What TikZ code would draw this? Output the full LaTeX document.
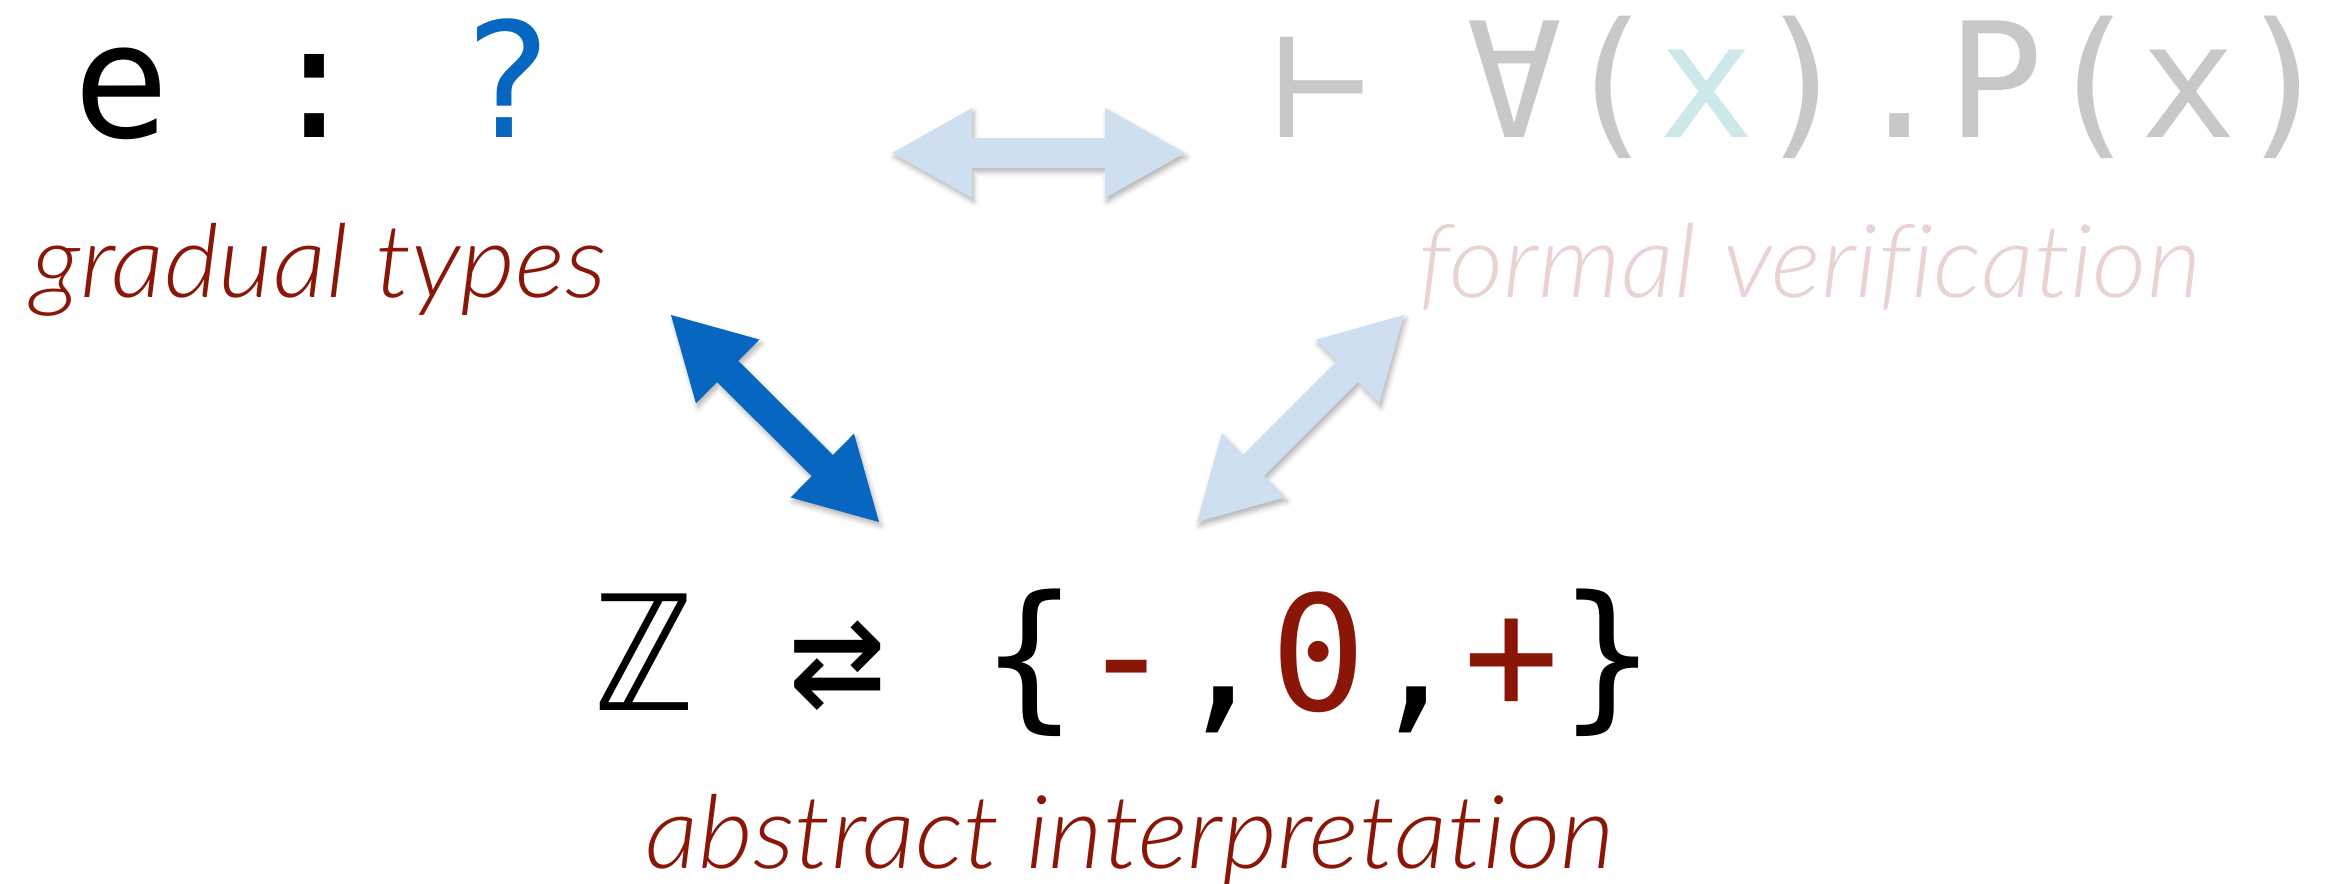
\documentclass[tikz,border=0pt]{standalone}
\usepackage{fontspec}
\setmainfont{Liberation Sans}
\newfontfamily\monof{DejaVu Sans Mono}
\newfontfamily\capf{Lato Light Italic}[Ligatures=NoCommon, FakeStretch=1.04]
\usetikzlibrary{calc,shadows.blur}
\definecolor{labred}{RGB}{138,22,8}
\definecolor{qblue}{RGB}{6,102,192}
\definecolor{lblue}{RGB}{206,224,240}
\definecolor{fgrey}{RGB}{200,200,200}
\definecolor{fteal}{RGB}{204,232,232}
\definecolor{fpink}{RGB}{233,211,208}
\newcommand\blockarrow[4]{%
  \coordinate (#4p) at ($(#2)!40pt!(#3)$);
  \coordinate (#4q) at ($(#3)!40pt!(#2)$);
  \fill[#1] (#2) -- ($(#4p)!22.5pt!90:(#3)$) -- ($(#4p)!7.5pt!90:(#3)$)
    -- ($(#4q)!7.5pt!-90:(#2)$) -- ($(#4q)!22.5pt!-90:(#2)$) -- (#3)
    -- ($(#4q)!22.5pt!90:(#2)$) -- ($(#4q)!7.5pt!90:(#2)$)
    -- ($(#4p)!7.5pt!-90:(#3)$) -- ($(#4p)!22.5pt!-90:(#3)$) -- cycle;}
\begin{document}
\begin{tikzpicture}[x=0.5pt,y=-0.5pt,
  formula/.style={inner sep=0pt, anchor=base west, font=\monof\fontsize{80pt}{80pt}\selectfont\frenchspacing},
  caption/.style={inner sep=0pt, anchor=base, font=\capf\fontsize{51pt}{53pt}\selectfont},
  arrowshadow/.style={blur shadow={shadow xshift=1pt, shadow yshift=-2pt, shadow blur radius=2.5pt, shadow opacity=30}},
  darkarrow/.style={fill=qblue, arrowshadow},
  lightarrow/.style={fill=lblue, arrowshadow}]
\useasboundingbox (0,0) rectangle (2336,884);
% texts
\node[formula] (gtf) at (73,137) {e : \textcolor{qblue}{?}};
\node[caption, text=labred] (gtl) at (319,297) {gradual types};
\node[formula, text=fgrey] (fvf) at (1273,137) {⊢ ∀(\textcolor{fteal}{x}).P(x)};
\node[caption, text=fpink] (fvl) at (1810,297) {formal verification};
\node[formula] (aif) at (596,710) {ℤ ⇄ \{\textcolor{labred}{-},\textcolor{labred}{0},\textcolor{labred}{+}\}};
\node[caption, text=labred] (ail) at (1130,868) {abstract interpretation};
% arrow ends
\coordinate (h1) at (892,153);
\coordinate (h2) at (1185,153);
\coordinate (b1) at (671,315);
\coordinate (b2) at (879,522);
\coordinate (l1) at (1404,315);
\coordinate (l2) at (1197,522);
\blockarrow{lightarrow}{h1}{h2}{ha}
\blockarrow{darkarrow}{b1}{b2}{ba}
\blockarrow{lightarrow}{l1}{l2}{la}
\end{tikzpicture}
\end{document}
